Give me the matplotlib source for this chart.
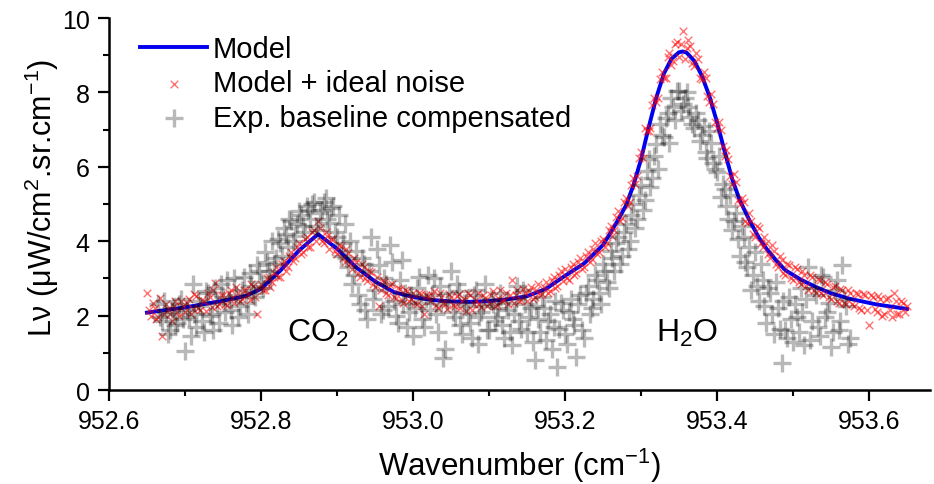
import matplotlib
matplotlib.use("Agg")
import matplotlib.pyplot as plt
from matplotlib.ticker import MultipleLocator, FormatStrFormatter

plt.rcParams['font.family'] = ['Liberation Sans', 'DejaVu Sans']
plt.rcParams['mathtext.fontset'] = 'custom'
plt.rcParams['mathtext.rm'] = 'Liberation Sans'
plt.rcParams['mathtext.it'] = 'Liberation Sans:italic'

# ---------------- data ----------------
model_x = [952.650, 952.700, 952.750, 952.780, 952.800, 952.825, 952.850, 952.875, 952.900, 952.925,
           952.950, 952.975, 953.000, 953.025, 953.050, 953.075, 953.100, 953.125, 953.150, 953.175,
           953.200, 953.225, 953.250, 953.260, 953.270, 953.280, 953.290, 953.300, 953.310, 953.320,
           953.330, 953.340, 953.350, 953.355, 953.360, 953.370, 953.380, 953.390, 953.400, 953.410,
           953.420, 953.430, 953.443, 953.455, 953.465, 953.478, 953.490, 953.510, 953.530, 953.550,
           953.575, 953.610, 953.650]
model_y = [2.08, 2.22, 2.40, 2.53, 2.72, 3.20, 3.75, 4.19, 3.80, 3.30,
           2.92, 2.63, 2.50, 2.42, 2.38, 2.37, 2.39, 2.44, 2.52, 2.72,
           3.07, 3.40, 3.90, 4.23, 4.58, 4.95, 5.50, 6.20, 7.05, 7.85,
           8.50, 8.90, 9.08, 9.10, 9.07, 8.85, 8.45, 7.90, 7.20, 6.42,
           5.67, 5.10, 4.55, 4.10, 3.80, 3.48, 3.22, 2.97, 2.77, 2.60,
           2.45, 2.30, 2.18]

noise_x = [952.650, 952.655, 952.660, 952.665, 952.670, 952.675, 952.680, 952.685, 952.690, 952.695,
           952.700, 952.705, 952.710, 952.715, 952.720, 952.725, 952.730, 952.735, 952.740, 952.745,
           952.750, 952.755, 952.760, 952.765, 952.770, 952.775, 952.780, 952.785, 952.790, 952.795,
           952.800, 952.805, 952.810, 952.815, 952.820, 952.825, 952.830, 952.835, 952.840, 952.845,
           952.850, 952.855, 952.860, 952.865, 952.870, 952.875, 952.880, 952.885, 952.890, 952.895,
           952.900, 952.905, 952.910, 952.915, 952.920, 952.925, 952.930, 952.935, 952.940, 952.945,
           952.950, 952.955, 952.960, 952.965, 952.970, 952.975, 952.980, 952.985, 952.990, 952.995,
           953.000, 953.005, 953.010, 953.015, 953.020, 953.025, 953.030, 953.035, 953.040, 953.045,
           953.050, 953.055, 953.060, 953.065, 953.070, 953.075, 953.080, 953.085, 953.090, 953.095,
           953.100, 953.105, 953.110, 953.115, 953.120, 953.125, 953.130, 953.135, 953.140, 953.145,
           953.150, 953.155, 953.160, 953.165, 953.170, 953.175, 953.180, 953.185, 953.190, 953.195,
           953.200, 953.205, 953.210, 953.215, 953.220, 953.225, 953.230, 953.235, 953.240, 953.245,
           953.250, 953.255, 953.260, 953.265, 953.270, 953.275, 953.280, 953.285, 953.290, 953.295,
           953.300, 953.305, 953.310, 953.315, 953.320, 953.325, 953.330, 953.335, 953.340, 953.345,
           953.350, 953.355, 953.360, 953.365, 953.370, 953.375, 953.380, 953.385, 953.390, 953.395,
           953.400, 953.405, 953.410, 953.415, 953.420, 953.425, 953.430, 953.435, 953.440, 953.445,
           953.450, 953.455, 953.460, 953.465, 953.470, 953.475, 953.480, 953.485, 953.490, 953.495,
           953.500, 953.505, 953.510, 953.515, 953.520, 953.525, 953.530, 953.535, 953.540, 953.545,
           953.550, 953.555, 953.560, 953.565, 953.570, 953.575, 953.580, 953.585, 953.590, 953.595,
           953.600, 953.605, 953.610, 953.615, 953.620, 953.625, 953.630, 953.635, 953.640, 953.645,
           953.650]
noise_y = [2.62, 1.98, 2.20, 1.95, 1.45, 2.30, 2.05, 2.27, 2.10, 2.38,
           2.10, 2.45, 2.18, 2.52, 2.15, 2.40, 2.62, 2.22, 2.88, 2.30,
           2.55, 2.28, 2.70, 2.35, 2.62, 2.45, 2.70, 2.42, 2.80, 2.05,
           2.85, 2.68, 3.05, 2.90, 3.30, 3.05, 3.48, 3.30, 3.70, 3.55,
           3.95, 3.70, 4.12, 3.85, 4.30, 4.55, 4.00, 4.25, 3.80, 4.05,
           3.65, 3.88, 3.45, 3.68, 3.25, 3.45, 3.05, 3.32, 2.92, 3.18,
           2.78, 2.25, 2.95, 2.60, 2.82, 2.50, 2.75, 2.42, 2.68, 2.38,
           2.62, 2.30, 2.58, 2.05, 2.52, 2.55, 2.28, 2.62, 2.35, 2.18,
           2.50, 2.25, 2.58, 2.40, 2.12, 2.55, 2.30, 2.62, 2.22, 2.48,
           2.35, 2.65, 2.28, 2.70, 2.42, 2.30, 2.95, 2.55, 2.38, 2.72,
           2.40, 2.78, 2.50, 2.85, 2.58, 2.90, 2.65, 3.05, 2.80, 3.20,
           3.25, 2.95, 3.40, 3.15, 3.55, 3.30, 3.70, 3.52, 3.95, 3.72,
           4.05, 3.95, 4.40, 4.30, 4.80, 4.62, 5.15, 5.05, 5.70, 5.75,
           6.40, 7.05, 6.95, 7.65, 7.75, 8.35, 8.40, 8.95, 8.75, 9.30,
           8.95, 9.65, 9.20, 9.25, 8.70, 8.90, 8.35, 8.40, 7.75, 7.70,
           7.05, 7.00, 6.30, 6.20, 5.55, 5.60, 5.00, 5.05, 4.50, 4.55,
           4.10, 4.35, 3.85, 3.95, 3.55, 3.75, 3.30, 3.50, 3.10, 3.35,
           2.95, 3.25, 2.85, 3.10, 2.70, 3.05, 2.60, 2.95, 2.55, 2.85,
           2.45, 2.80, 2.35, 2.70, 2.30, 2.62, 2.25, 2.58, 2.15, 2.55,
           1.75, 2.50, 2.10, 2.45, 2.05, 2.48, 1.95, 2.40, 2.05, 2.35,
           2.25]

noise2_x = [952.6525, 952.6575, 952.6625, 952.6675, 952.6725, 952.6775, 952.6825, 952.6875, 952.6925, 952.6975,
            952.7025, 952.7075, 952.7125, 952.7175, 952.7225, 952.7275, 952.7325, 952.7375, 952.7425, 952.7475,
            952.7525, 952.7575, 952.7625, 952.7675, 952.7725, 952.7775, 952.7825, 952.7875, 952.7925, 952.7975,
            952.8025, 952.8075, 952.8125, 952.8175, 952.8225, 952.8275, 952.8325, 952.8375, 952.8425, 952.8475,
            952.8525, 952.8575, 952.8625, 952.8675, 952.8725, 952.8775, 952.8825, 952.8875, 952.8925, 952.8975,
            952.9025, 952.9075, 952.9125, 952.9175, 952.9225, 952.9275, 952.9325, 952.9375, 952.9425, 952.9475,
            952.9525, 952.9575, 952.9625, 952.9675, 952.9725, 952.9775, 952.9825, 952.9875, 952.9925, 952.9975,
            953.0025, 953.0075, 953.0125, 953.0175, 953.0225, 953.0275, 953.0325, 953.0375, 953.0425, 953.0475,
            953.0525, 953.0575, 953.0625, 953.0675, 953.0725, 953.0775, 953.0825, 953.0875, 953.0925, 953.0975,
            953.1025, 953.1075, 953.1125, 953.1175, 953.1225, 953.1275, 953.1325, 953.1375, 953.1425, 953.1475,
            953.1525, 953.1575, 953.1625, 953.1675, 953.1725, 953.1775, 953.1825, 953.1875, 953.1925, 953.1975,
            953.2025, 953.2075, 953.2125, 953.2175, 953.2225, 953.2275, 953.2325, 953.2375, 953.2425, 953.2475,
            953.2525, 953.2575, 953.2625, 953.2675, 953.2725, 953.2775, 953.2825, 953.2875, 953.2925, 953.2975,
            953.3025, 953.3075, 953.3125, 953.3175, 953.3225, 953.3275, 953.3325, 953.3375, 953.3425, 953.3475,
            953.3525, 953.3575, 953.3625, 953.3675, 953.3725, 953.3775, 953.3825, 953.3875, 953.3925, 953.3975,
            953.4025, 953.4075, 953.4125, 953.4175, 953.4225, 953.4275, 953.4325, 953.4375, 953.4425, 953.4475,
            953.4525, 953.4575, 953.4625, 953.4675, 953.4725, 953.4775, 953.4825, 953.4875, 953.4925, 953.4975,
            953.5025, 953.5075, 953.5125, 953.5175, 953.5225, 953.5275, 953.5325, 953.5375, 953.5425, 953.5475,
            953.5525, 953.5575, 953.5625, 953.5675, 953.5725, 953.5775, 953.5825, 953.5875, 953.5925, 953.5975,
            953.6025, 953.6075, 953.6125, 953.6175, 953.6225, 953.6275, 953.6325, 953.6375, 953.6425, 953.6475]
noise2_y = [2.15, 2.35, 1.92, 2.48, 2.05, 2.18, 1.85, 2.40, 2.00, 2.25,
            2.35, 2.05, 2.58, 2.20, 2.42, 2.12, 2.50, 2.70, 2.25, 2.55,
            2.32, 2.60, 2.48, 2.78, 2.40, 2.68, 2.55, 2.85, 2.50, 2.75,
            2.70, 3.00, 2.78, 3.15, 3.05, 3.40, 3.20, 3.60, 3.48, 3.85,
            3.65, 4.05, 3.85, 4.25, 4.00, 4.35, 3.95, 4.15, 4.05, 3.75,
            3.90, 3.55, 3.80, 3.40, 3.55, 3.15, 3.40, 3.00, 3.20, 2.85,
            3.05, 2.70, 2.90, 2.55, 2.85, 2.48, 2.72, 2.35, 2.65, 2.45,
            2.35, 2.60, 2.25, 2.55, 2.40, 2.65, 2.20, 2.50, 2.30, 2.58,
            2.28, 2.52, 2.20, 2.45, 2.60, 2.15, 2.42, 2.32, 2.55, 2.25,
            2.55, 2.25, 2.48, 2.38, 2.60, 2.55, 2.35, 2.70, 2.42, 2.60,
            2.65, 2.45, 2.70, 2.55, 2.78, 2.62, 2.95, 2.75, 3.10, 2.92,
            3.00, 3.30, 3.10, 3.45, 3.25, 3.60, 3.45, 3.80, 3.65, 4.00,
            3.85, 4.30, 4.15, 4.65, 4.55, 5.05, 4.95, 5.50, 5.55, 6.25,
            6.25, 6.95, 7.05, 7.85, 7.85, 8.55, 8.40, 9.05, 8.85, 9.35,
            9.30, 8.90, 9.40, 8.80, 9.05, 8.40, 8.55, 7.90, 7.95, 7.20,
            7.20, 6.55, 6.45, 5.75, 5.80, 5.10, 5.15, 4.55, 4.75, 4.20,
            4.40, 3.95, 4.10, 3.65, 3.90, 3.40, 3.60, 3.15, 3.40, 3.00,
            3.30, 2.90, 3.20, 2.80, 3.10, 2.70, 2.98, 2.62, 2.90, 2.50,
            2.78, 2.40, 2.72, 2.35, 2.68, 2.30, 2.62, 2.20, 2.58, 2.15,
            2.55, 2.18, 2.52, 2.00, 2.45, 2.15, 2.62, 2.05, 2.40, 2.10]

exp_x = [952.665, 952.670, 952.675, 952.680, 952.685, 952.690, 952.695, 952.700, 952.705, 952.710,
         952.715, 952.720, 952.725, 952.730, 952.735, 952.740, 952.745, 952.750, 952.755, 952.760,
         952.765, 952.770, 952.775, 952.780, 952.785, 952.790, 952.795, 952.800, 952.805, 952.810,
         952.815, 952.820, 952.825, 952.830, 952.835, 952.840, 952.845, 952.850, 952.855, 952.860,
         952.865, 952.870, 952.875, 952.880, 952.885, 952.890, 952.895, 952.900, 952.905, 952.910,
         952.915, 952.920, 952.925, 952.930, 952.935, 952.940, 952.945, 952.950, 952.955, 952.960,
         952.965, 952.970, 952.975, 952.980, 952.985, 952.990, 952.995, 953.000, 953.005, 953.010,
         953.015, 953.020, 953.025, 953.030, 953.035, 953.040, 953.045, 953.050, 953.055, 953.060,
         953.065, 953.070, 953.075, 953.080, 953.085, 953.090, 953.095, 953.100, 953.105, 953.110,
         953.115, 953.120, 953.125, 953.130, 953.135, 953.140, 953.145, 953.150, 953.155, 953.160,
         953.165, 953.170, 953.175, 953.180, 953.185, 953.190, 953.195, 953.200, 953.205, 953.210,
         953.215, 953.220, 953.225, 953.230, 953.235, 953.240, 953.245, 953.250, 953.255, 953.260,
         953.265, 953.270, 953.275, 953.280, 953.285, 953.290, 953.295, 953.300, 953.305, 953.310,
         953.315, 953.320, 953.325, 953.330, 953.335, 953.340, 953.345, 953.350, 953.355, 953.360,
         953.365, 953.370, 953.375, 953.380, 953.385, 953.390, 953.395, 953.400, 953.405, 953.410,
         953.415, 953.420, 953.425, 953.430, 953.435, 953.440, 953.445, 953.450, 953.455, 953.460,
         953.465, 953.470, 953.475, 953.480, 953.485, 953.490, 953.495, 953.500, 953.505, 953.510,
         953.515, 953.520, 953.525, 953.530, 953.535, 953.540, 953.545, 953.550, 953.555, 953.560,
         953.565, 953.570, 953.575]
exp_y = [2.30, 1.85, 2.05, 1.60, 2.20, 1.80, 2.45, 1.05, 1.95, 2.85,
         1.70, 2.25, 1.55, 2.60, 2.05, 2.75, 1.80, 2.50, 2.95, 2.15,
         3.00, 1.95, 2.70, 2.35, 3.15, 2.60, 3.35, 2.90, 3.70, 3.20,
         4.00, 3.55, 3.95, 4.35, 3.85, 4.55, 4.15, 4.80, 4.40, 4.95,
         4.60, 5.05, 4.30, 4.85, 5.15, 4.50, 4.95, 4.10, 3.60, 4.45,
         3.30, 2.85, 3.75, 2.30, 3.40, 1.90, 4.10, 2.70, 3.35, 2.15,
         2.85, 3.90, 2.40, 1.80, 3.50, 2.60, 2.10, 1.45, 2.75, 2.35,
         1.70, 3.10, 2.55, 2.05, 2.80, 0.85, 2.40, 3.20, 1.95, 2.65,
         1.50, 2.25, 1.80, 2.55, 1.25, 2.10, 2.85, 1.60, 2.30, 1.95,
         2.60, 1.40, 2.15, 1.20, 2.45, 1.85, 2.70, 1.55, 2.20, 0.80,
         1.90, 2.50, 1.35, 2.05, 1.70, 0.62, 2.35, 1.50, 2.10, 1.90,
         0.90, 2.55, 1.40, 2.80, 2.20, 3.10, 2.60, 3.40, 2.90, 3.75,
         3.20, 4.10, 3.60, 4.45, 4.00, 5.00, 4.60, 5.50, 5.10, 6.20,
         5.70, 6.60, 7.15, 6.80, 7.45, 7.85, 7.25, 8.05, 7.70, 8.00,
         7.35, 7.05, 7.25, 6.85, 6.40, 6.95, 6.10, 5.85, 5.20, 5.40,
         4.60, 4.30, 4.75, 3.60, 4.10, 3.30, 2.70, 3.70, 2.40, 2.95,
         1.80, 2.60, 1.50, 2.20, 0.72, 1.60, 2.50, 1.30, 1.95, 2.75,
         1.20, 3.30, 1.85, 2.55, 1.45, 3.05, 2.10, 1.15, 2.70, 1.60,
         3.35, 2.25, 1.40]

exp2_x = [952.6675, 952.6725, 952.6775, 952.6825, 952.6875, 952.6925, 952.6975, 952.7025, 952.7075, 952.7125,
          952.7175, 952.7225, 952.7275, 952.7325, 952.7375, 952.7425, 952.7475, 952.7525, 952.7575, 952.7625,
          952.7675, 952.7725, 952.7775, 952.7825, 952.7875, 952.7925, 952.7975, 952.8025, 952.8075, 952.8125,
          952.8175, 952.8225, 952.8275, 952.8325, 952.8375, 952.8425, 952.8475, 952.8525, 952.8575, 952.8625,
          952.8675, 952.8725, 952.8775, 952.8825, 952.8875, 952.8925, 952.8975, 952.9025, 952.9075, 952.9125,
          952.9175, 952.9225, 952.9275, 952.9325, 952.9375, 952.9425, 952.9475, 952.9525, 952.9575, 952.9625,
          952.9675, 952.9725, 952.9775, 952.9825, 952.9875, 952.9925, 952.9975, 953.0025, 953.0075, 953.0125,
          953.0175, 953.0225, 953.0275, 953.0325, 953.0375, 953.0425, 953.0475, 953.0525, 953.0575, 953.0625,
          953.0675, 953.0725, 953.0775, 953.0825, 953.0875, 953.0925, 953.0975, 953.1025, 953.1075, 953.1125,
          953.1175, 953.1225, 953.1275, 953.1325, 953.1375, 953.1425, 953.1475, 953.1525, 953.1575, 953.1625,
          953.1675, 953.1725, 953.1775, 953.1825, 953.1875, 953.1925, 953.1975, 953.2025, 953.2075, 953.2125,
          953.2175, 953.2225, 953.2275, 953.2325, 953.2375, 953.2425, 953.2475, 953.2525, 953.2575, 953.2625,
          953.2675, 953.2725, 953.2775, 953.2825, 953.2875, 953.2925, 953.2975, 953.3025, 953.3075, 953.3125,
          953.3175, 953.3225, 953.3275, 953.3325, 953.3375, 953.3425, 953.3475, 953.3525, 953.3575, 953.3625,
          953.3675, 953.3725, 953.3775, 953.3825, 953.3875, 953.3925, 953.3975, 953.4025, 953.4075, 953.4125,
          953.4175, 953.4225, 953.4275, 953.4325, 953.4375, 953.4425, 953.4475, 953.4525, 953.4575, 953.4625,
          953.4675, 953.4725, 953.4775, 953.4825, 953.4875, 953.4925, 953.4975, 953.5025, 953.5075, 953.5125,
          953.5175, 953.5225, 953.5275, 953.5325, 953.5375, 953.5425, 953.5475, 953.5525, 953.5575, 953.5625,
          953.5675, 953.5725]
exp2_y = [1.95, 2.40, 1.50, 2.10, 1.75, 2.30, 1.90, 2.15, 1.45, 2.05,
          2.40, 1.85, 2.65, 2.00, 1.60, 2.35, 2.85, 2.10, 2.45, 1.75,
          2.55, 2.25, 3.05, 2.05, 2.80, 2.50, 3.20, 2.75, 3.45, 3.05,
          3.40, 4.05, 3.60, 4.20, 4.60, 4.00, 4.45, 4.70, 4.25, 4.85,
          5.00, 4.40, 4.75, 5.05, 4.60, 4.90, 4.25, 4.70, 3.95, 3.55,
          4.00, 3.10, 2.55, 3.55, 2.15, 3.20, 2.45, 3.80, 2.05, 3.00,
          2.25, 3.45, 2.00, 2.95, 2.30, 1.70, 2.55, 2.20, 3.05, 1.90,
          2.45, 2.15, 3.00, 1.55, 2.30, 1.10, 2.60, 2.10, 2.85, 1.75,
          2.35, 2.05, 1.40, 2.70, 1.95, 2.25, 1.60, 2.45, 1.85, 2.20,
          1.75, 2.35, 1.55, 2.05, 2.80, 1.65, 2.30, 1.95, 1.30, 2.25,
          1.55, 2.20, 1.85, 1.10, 2.40, 1.65, 2.15, 1.25, 2.45, 1.75,
          2.30, 1.60, 2.60, 2.05, 2.45, 2.95, 2.30, 3.20, 2.75, 3.55,
          3.95, 3.40, 4.25, 3.80, 4.70, 4.35, 5.25, 4.85, 5.90, 5.45,
          6.30, 5.95, 6.85, 7.30, 6.65, 7.60, 8.05, 7.50, 7.85, 7.60,
          7.15, 7.45, 6.70, 7.10, 6.25, 6.65, 5.95, 6.30, 5.55, 4.95,
          5.25, 4.55, 4.05, 4.40, 3.45, 3.85, 3.10, 2.80, 3.40, 2.25,
          2.75, 2.05, 2.90, 1.65, 2.40, 1.40, 1.90, 2.30, 1.55, 2.10,
          2.45, 1.35, 2.75, 1.70, 3.10, 1.95, 2.35, 1.55, 2.95, 1.85,
          2.45, 1.25]

x_ticks = [952.6, 952.8, 953.0, 953.2, 953.4, 953.6]
y_ticks = [0, 2, 4, 6, 8, 10]
labels = ["Model", "Model + ideal noise", "Exp. baseline compensated"]
annotations = [("CO$_2$", 952.875, 1.55), ("H$_2$O", 953.36, 1.55)]

# ---------------- plot ----------------
fig = plt.figure(figsize=(9.34, 4.85), dpi=100)
ax = fig.add_axes([0.1167, 0.1938, 0.8788, 0.767])

ax.plot(model_x, model_y, color='#0000ee', lw=2.8, zorder=2, label=labels[0])
ax.scatter(noise_x + noise2_x, noise_y + noise2_y, marker='x', s=30, color='#ff0000',
           linewidths=1.0, alpha=0.55, zorder=3, label=labels[1])
ax.scatter(exp_x + exp2_x, exp_y + exp2_y, marker='+', s=150, color='black',
           linewidths=2.4, alpha=0.28, zorder=4, label=labels[2])

for txt, xx, yy in annotations:
    ax.text(xx, yy, txt, fontsize=23, ha='center', va='center')

ax.set_xlim(952.6, 953.68)
ax.set_ylim(0, 10)
ax.set_xticks(x_ticks)
ax.set_yticks(y_ticks)
ax.xaxis.set_major_formatter(FormatStrFormatter('%.1f'))
ax.xaxis.set_minor_locator(MultipleLocator(0.1))
ax.yaxis.set_minor_locator(MultipleLocator(1))
ax.tick_params(which='major', direction='out', length=8, width=1.6, labelsize=18, pad=6)
ax.tick_params(which='minor', direction='out', length=4.5, width=1.5)
for s in ['top', 'right']:
    ax.spines[s].set_visible(False)
for s in ['left', 'bottom']:
    ax.spines[s].set_linewidth(1.8)

ax.set_xlabel('Wavenumber (cm$^{\\mathregular{-1}}$)', fontsize=22.5)
ax.set_ylabel('L\u03bd (\u03bcW/cm$^{\\mathregular{2}}$.sr.cm$^{\\mathregular{-1}}$)', fontsize=22)
ax.xaxis.set_label_coords(0.5, -0.15)
ax.yaxis.set_label_coords(-0.058, 0.52)

leg = ax.legend(loc='upper left', bbox_to_anchor=(140/934, 1 - 36/485),
                bbox_transform=fig.transFigure, frameon=False, fontsize=21,
                borderpad=0, borderaxespad=0, handlelength=2.3, handletextpad=0.2,
                labelspacing=0.22, scatterpoints=1)

fig.savefig('out.png', dpi=100, facecolor='white')
